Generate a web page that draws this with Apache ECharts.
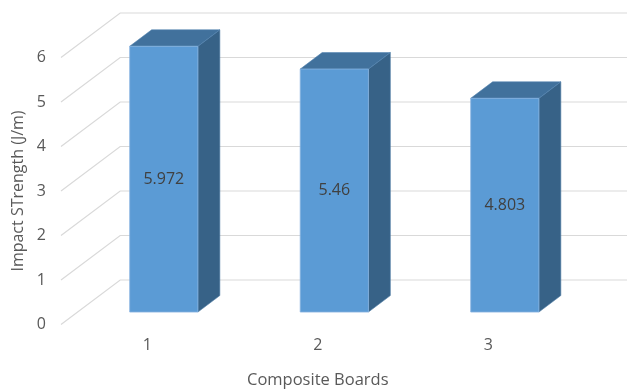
<!DOCTYPE html>
<html>
<head>
<meta charset="utf-8">
<script src="https://cdn.jsdelivr.net/npm/echarts@6/dist/echarts.min.js"></script>
<style>
  html, body { margin: 0; padding: 0; background: #ffffff; }
  #chart { width: 627px; height: 390px; }
</style>
</head>
<body>
<div id="chart"></div>
<script>
// Impact strength of the three composite boards
var categories = ['1', '2', '3'];
var impactValues = [5.972, 5.46, 4.803];
var yTicks = [0, 1, 2, 3, 4, 5, 6];

// 3-D look: the floor depth, in value-axis units (x and y components)
var DEPTH_X = 1.33;
var DEPTH_Y = 1.0;
// bars sit between these fractions of the floor depth
var BAR_FRONT = 0.28;
var BAR_BACK = 0.65;
var BAR_WIDTH_RATIO = 0.4;

var FONT = '"Open Sans", "Noto Sans", sans-serif';

var chart = echarts.init(document.getElementById('chart'));

function depthVec(api) {
  var unit = api.size([0, 1])[1];
  return [DEPTH_X * unit, -DEPTH_Y * unit];
}

// wall and floor gridlines: slanted on the side wall, flat on the back wall
function renderGrid(params, api) {
  var v = api.value(0);
  var d = depthVec(api);
  var band = api.size([1, 0])[0];
  var p = api.coord([0, v]);
  var x0 = p[0] - band / 2 - 1;
  var y0 = p[1];
  var xb = x0 + d[0];
  var yb = y0 + d[1];
  return {
    type: 'polyline',
    shape: { points: [[x0, y0], [xb, yb], [params.coordSys.x + params.coordSys.width + 200, yb]] },
    style: { stroke: '#d9d9d9', lineWidth: 1.2, fill: null },
    silent: true
  };
}

function renderBar(params, api) {
  var i = api.value(0);
  var v = api.value(1);
  var d = depthVec(api);
  var band = api.size([1, 0])[0];
  var base = api.coord([i, 0]);
  var top = api.coord([i, v]);
  var bw = band * BAR_WIDTH_RATIO;
  var fx = BAR_FRONT * d[0], fy = BAR_FRONT * d[1];
  var ex = (BAR_BACK - BAR_FRONT) * d[0], ey = (BAR_BACK - BAR_FRONT) * d[1];
  var xl = base[0] - bw / 2 + fx;
  var xr = base[0] + bw / 2 + fx;
  var yb = base[1] + fy;
  var yt = top[1] + fy;
  return {
    type: 'group',
    children: [
      {
        type: 'polygon',
        shape: { points: [[xr, yt], [xr + ex, yt + ey], [xr + ex, yb + ey], [xr, yb]] },
        style: { fill: '#376287', stroke: '#4a79a3', lineWidth: 0.6 }
      },
      {
        type: 'polygon',
        shape: { points: [[xl, yt], [xr, yt], [xr + ex, yt + ey], [xl + ex, yt + ey]] },
        style: { fill: '#41719c', stroke: '#5283b0', lineWidth: 0.6 }
      },
      {
        type: 'rect',
        shape: { x: xl, y: yt, width: xr - xl, height: yb - yt },
        style: { fill: '#5b9bd5', stroke: '#86b3e0', lineWidth: 0.8 }
      },
      {
        type: 'text',
        x: (xl + xr) / 2,
        y: (yt + yb) / 2,
        style: {
          text: String(v),
          fill: '#404040',
          font: '16px ' + FONT,
          align: 'center',
          verticalAlign: 'middle'
        }
      }
    ]
  };
}

var option = {
  backgroundColor: '#ffffff',
  animation: false,
  grid: {
    left: 62, right: 53.5, top: 57.5, bottom: 65.5,
    containLabel: false,
    outerBoundsMode: 'none'
  },
  xAxis: {
    type: 'category',
    data: categories,
    boundaryGap: true,
    axisLine: { show: false },
    axisTick: { show: false },
    splitLine: { show: false },
    axisLabel: { color: '#595959', fontSize: 16, fontFamily: FONT, margin: 13 },
    name: 'Composite Boards',
    nameLocation: 'middle',
    nameGap: 47,
    nameTextStyle: { color: '#595959', fontSize: 16.5, fontFamily: FONT }
  },
  yAxis: {
    type: 'value',
    min: 0,
    max: 6,
    interval: 1,
    axisLine: { show: false },
    axisTick: { show: false },
    splitLine: { show: false },
    axisLabel: { color: '#595959', fontSize: 16, fontFamily: FONT, margin: 16 },
    name: 'Impact STrength (J/m)',
    nameLocation: 'middle',
    nameRotate: 90,
    nameGap: 36,
    nameTextStyle: { color: '#595959', fontSize: 16, fontFamily: FONT }
  },
  series: [
    {
      type: 'custom',
      renderItem: renderGrid,
      data: yTicks.map(function (t) { return [t]; }),
      encode: { y: 0 },
      clip: false,
      silent: true,
      z: 1
    },
    {
      type: 'custom',
      renderItem: renderBar,
      data: impactValues.map(function (v, i) { return [i, v]; }),
      encode: { x: 0, y: 1 },
      clip: false,
      z: 2
    }
  ]
};

chart.setOption(option);
</script>
</body>
</html>
